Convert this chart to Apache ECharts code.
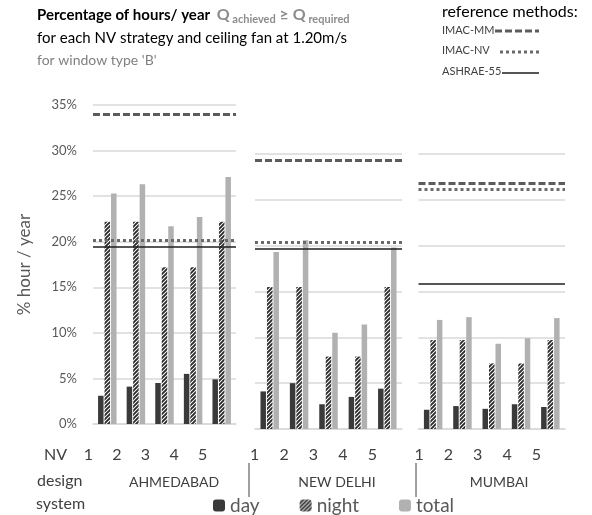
<!DOCTYPE html>
<html>
<head>
<meta charset="utf-8">
<script src="https://cdn.jsdelivr.net/npm/echarts@6/dist/echarts.min.js"></script>
<style>
  html, body { margin: 0; padding: 0; background: #fff; }
  #chart { width: 592px; height: 515px; }
</style>
</head>
<body>
<div id="chart"></div>
<script>
// values (percent of hours / year)
var cities = ['AHMEDABAD', 'NEW DELHI', 'MUMBAI'];
var nvLabels = ['1', '2', '3', '4', '5'];
var yMax = [35, 30, 30];

var dayAhm = [3.1, 4.1, 4.5, 5.5, 4.9];
var nightAhm = [22.2, 22.2, 17.2, 17.2, 22.2];
var totalAhm = [25.3, 26.3, 21.7, 22.7, 27.1];

var dayDel = [4.1, 5.0, 2.7, 3.5, 4.4];
var nightDel = [15.5, 15.5, 7.9, 7.9, 15.5];
var totalDel = [19.3, 20.6, 10.5, 11.4, 19.8];

var dayMum = [2.1, 2.5, 2.2, 2.7, 2.4];
var nightMum = [9.7, 9.7, 7.15, 7.15, 9.7];
var totalMum = [11.9, 12.2, 9.3, 9.9, 12.1];

// reference methods, one value per city
var imacMM = [34.0, 29.3, 26.8];
var imacNV = [20.2, 20.35, 26.2];
var ashrae = [19.4, 19.7, 15.8];

var dayData = [dayAhm, dayDel, dayMum];
var nightData = [nightAhm, nightDel, nightMum];
var totalData = [totalAhm, totalDel, totalMum];

// layout of the three panels
var grids = [
    { left: 93, top: 105, width: 143, height: 319 },
    { left: 255, top: 154, width: 147, height: 275 },
    { left: 418.5, top: 154, width: 146.5, height: 275 }
];
var labelShift = [19, 15, 14];
var labelMargin = [23, 18, 18];

var DAY = '#3a3a3a', TOTAL = '#b1b1b1', GRID = '#d9d9d9', TXT = '#404040';
var lineMM = { color: '#5c5c5c', width: 3, type: [7, 3] };
var lineNV = { color: '#6a6a6a', width: 3, type: [3, 3] };
var lineAS = { color: '#1e1e1e', width: 1.5, type: 'solid' };

// hatch for the night bars
var hatch = document.createElement('canvas');
hatch.width = 4; hatch.height = 4;
var hctx = hatch.getContext('2d');
hctx.fillStyle = '#fff';
hctx.fillRect(0, 0, 4, 4);
hctx.strokeStyle = '#2a2a2a';
hctx.lineWidth = 1.9;
hctx.beginPath();
hctx.moveTo(-1, 5); hctx.lineTo(5, -1);
hctx.moveTo(-1, 1); hctx.lineTo(1, -1);
hctx.moveTo(3, 5); hctx.lineTo(5, 3);
hctx.stroke();
var NIGHT = { image: hatch, repeat: 'repeat' };

var xAxes = [], yAxes = [], series = [];
for (var i = 0; i < 3; i++) {
    xAxes.push({
        type: 'category', gridIndex: i, data: nvLabels,
        axisLine: { lineStyle: { color: GRID, width: 1.5 } },
        axisTick: { show: false },
        axisLabel: {
            interval: 0, color: TXT, fontSize: 16, margin: labelMargin[i],
            padding: [0, labelShift[i] * 2, 0, 0]
        }
    });
    yAxes.push({
        type: 'value', gridIndex: i, min: 0, max: yMax[i], interval: 5,
        axisLine: { show: false }, axisTick: { show: false },
        splitLine: { lineStyle: { color: GRID, width: 1.5 } },
        axisLabel: i === 0
            ? { formatter: '{value}%', color: '#595959', fontSize: 13, margin: 16 }
            : { show: false },
        name: i === 0 ? '% hour / year' : '',
        nameLocation: 'middle', nameGap: 60,
        nameTextStyle: { color: '#595959', fontSize: 17 }
    });
    var common = { type: 'bar', xAxisIndex: i, yAxisIndex: i, barWidth: 5.5, barGap: '18%', animation: false };
    series.push(Object.assign({ name: 'day', data: dayData[i], itemStyle: { color: DAY } }, common));
    series.push(Object.assign({ name: 'night', data: nightData[i], itemStyle: { color: NIGHT } }, common));
    series.push(Object.assign({
        name: 'total', data: totalData[i], itemStyle: { color: TOTAL },
        markLine: {
            silent: true, symbol: ['none', 'none'], label: { show: false }, animation: false,
            data: [
                { yAxis: imacMM[i], lineStyle: lineMM },
                { yAxis: imacNV[i], lineStyle: lineNV },
                { yAxis: ashrae[i], lineStyle: lineAS }
            ]
        }
    }, common));
}

var graphics = [
    {
        type: 'text', left: 37, top: 7,
        style: {
            text: '{b|Percentage of hours/ year}  {q|Q}{s| achieved}{q| ≥ Q}{s| required}',
            rich: {
                b: { fontFamily: 'Lato', fontWeight: 'bold', fontSize: 15, fill: '#000', lineHeight: 20, verticalAlign: 'bottom' },
                q: { fontFamily: 'Lato', fontWeight: 'bold', fontSize: 16, fill: '#8c8c8c', lineHeight: 20, verticalAlign: 'bottom' },
                s: { fontFamily: 'Lato', fontWeight: 'bold', fontSize: 11, fill: '#8c8c8c', lineHeight: 20, verticalAlign: 'bottom', padding: [0, 0, -2, 0] }
            }
        }
    },
    { type: 'text', left: 37, top: 31, style: { text: 'for each NV strategy and ceiling fan at 1.20m/s', font: '15px Lato', fill: '#000' } },
    { type: 'text', left: 37, top: 53, style: { text: "for window type 'B'", font: '14px Lato', fill: '#808080' } },
    { type: 'text', left: 442, top: 4, style: { text: 'reference methods:', font: '16px Lato', fill: '#000' } },
    { type: 'text', left: 442, top: 25, style: { text: 'IMAC-MM', font: '11px Lato', fill: TXT } },
    { type: 'text', left: 442, top: 45, style: { text: 'IMAC-NV', font: '11px Lato', fill: TXT } },
    { type: 'text', left: 442, top: 66, style: { text: 'ASHRAE-55', font: '11px Lato', fill: TXT } },
    { type: 'line', shape: { x1: 495, y1: 31, x2: 539, y2: 31 }, style: { stroke: lineMM.color, lineWidth: 3, lineDash: [7, 3] } },
    { type: 'line', shape: { x1: 500, y1: 52, x2: 541, y2: 52 }, style: { stroke: lineNV.color, lineWidth: 3, lineDash: [3, 3] } },
    { type: 'line', shape: { x1: 502, y1: 73, x2: 539, y2: 73 }, style: { stroke: lineAS.color, lineWidth: 1.5 } },
    { type: 'text', left: 44, top: 447, style: { text: 'NV', font: '16px Lato', fill: TXT } },
    { type: 'text', left: 37, top: 473, style: { text: 'design', font: '16px Lato', fill: TXT } },
    { type: 'text', left: 36, top: 496, style: { text: 'system', font: '16px Lato', fill: TXT } },
    { type: 'line', shape: { x1: 249, y1: 463, x2: 249, y2: 497 }, style: { stroke: TXT, lineWidth: 1 } },
    { type: 'line', shape: { x1: 416, y1: 463, x2: 416, y2: 497 }, style: { stroke: TXT, lineWidth: 1 } }
];
var cityX = [174, 337, 499];
cities.forEach(function (c, k) {
    graphics.push({
        type: 'text', x: cityX[k], y: 482,
        style: { text: c, font: '14px Lato', fill: TXT, textAlign: 'center', textVerticalAlign: 'middle' }
    });
});

var chart = echarts.init(document.getElementById('chart'));
chart.setOption({
    animation: false,
    textStyle: { fontFamily: 'Lato' },
    grid: grids,
    xAxis: xAxes,
    yAxis: yAxes,
    legend: {
        data: ['day', 'night', 'total'],
        left: 208, top: 491,
        itemWidth: 12, itemHeight: 12, itemGap: 40,
        textStyle: { color: '#595959', fontSize: 19 }
    },
    graphic: graphics,
    series: series
});
</script>
</body>
</html>
